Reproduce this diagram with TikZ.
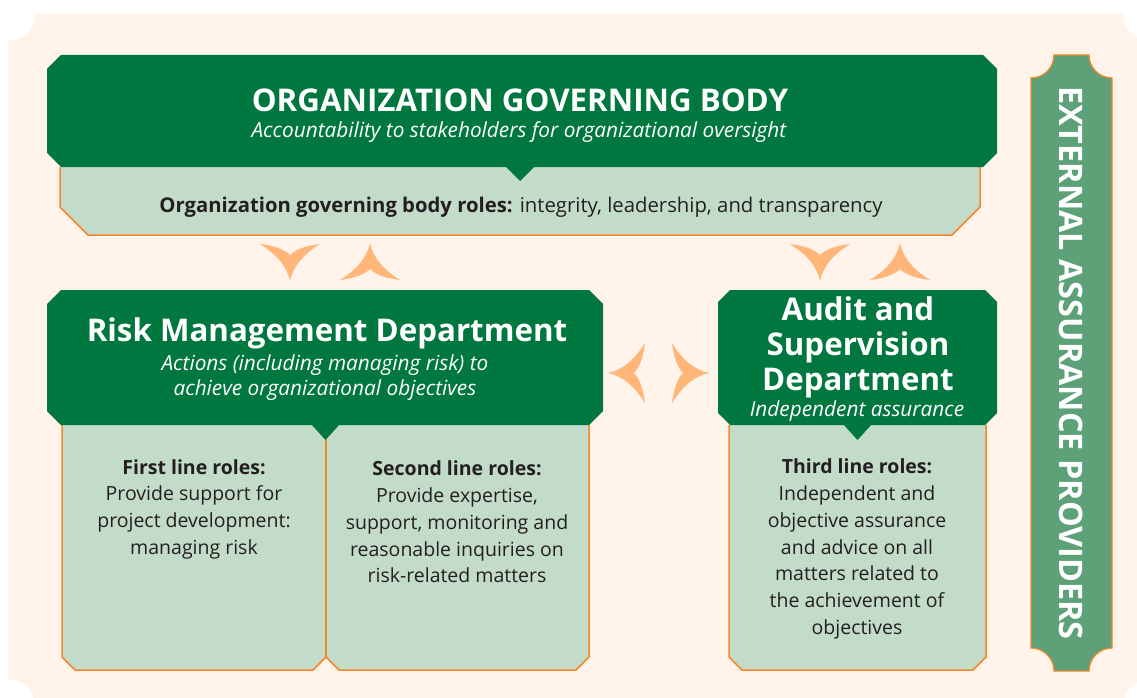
\documentclass[tikz,border=0pt]{standalone}
\usepackage{fontspec}
\setmainfont{Open Sans}
\usetikzlibrary{positioning}

\definecolor{pagebeige}{HTML}{FFF3EA}
\definecolor{govgreen}{HTML}{00773F}
\definecolor{rolegreen}{HTML}{C3DCC9}
\definecolor{roleedge}{HTML}{F5862A}
\definecolor{chevfill}{HTML}{FFB678}
\definecolor{extgreen}{HTML}{5CA177}
\definecolor{inkgray}{HTML}{231F20}

\tikzset{every picture/.style={line width=0.75pt}}
\tikzset{
  headbox/.style={fill=govgreen},
  rolebox/.style={fill=rolegreen},
  roleline/.style={draw=roleedge,line width=1.5pt},
  headtext/.style={text=white,align=center,inner sep=0pt,font=\fontsize{31.3}{35}\selectfont\bfseries},
  subtext/.style={text=white,align=center,inner sep=0pt,font=\fontsize{20.8}{25}\selectfont\itshape},
  roletext/.style={text=inkgray,align=center,inner sep=0pt,font=\fontsize{19.5}{26.7}\selectfont},
  chev/.pic={
    \fill[chevfill] (-30,-18) .. controls (-14,-16) and (-5,-12) .. (0,-7)
      .. controls (5,-12) and (14,-16) .. (30,-18)
      .. controls (14,-8) and (3,4) .. (0,19)
      .. controls (-3,4) and (-14,-8) .. (-30,-18) -- cycle;
  }
}

\begin{document}
\begin{tikzpicture}[x=1pt,y=-1pt]
\useasboundingbox (0,0) rectangle (1137,698);

%Background sheet with cut corners
\fill[pagebeige] (8,41) arc[start angle=90,end angle=0,radius=27] -- (1123,14)
  arc[start angle=180,end angle=90,radius=27] -- (1150,679)
  arc[start angle=270,end angle=180,radius=27] -- (35,706)
  arc[start angle=0,end angle=-90,radius=27] -- cycle;

%Shape: governing body roles
\fill[rolebox] (60,160) -- (60,207) -- (88,235) -- (952,235) -- (980,207) -- (980,160) -- cycle;
\draw[roleline] (60,167) -- (60,207) -- (88,235) -- (952,235) -- (980,207) -- (980,167);
%Shape: first and second line roles
\fill[rolebox] (62,420) -- (62,657) -- (75,670) -- (313,670) -- (326,657) -- (339,670) -- (576,670) -- (589,657) -- (589,420) -- cycle;
\draw[roleline] (62,425) -- (62,657) -- (75,670) -- (313,670) -- (326,657) -- (339,670) -- (576,670) -- (589,657) -- (589,425);
\draw[roleline] (326,425) -- (326,657);
%Shape: third line roles
\fill[rolebox] (729,420) -- (729,657) -- (742,670) -- (973,670) -- (986,657) -- (986,420) -- cycle;
\draw[roleline] (729,425) -- (729,657) -- (742,670) -- (973,670) -- (986,657) -- (986,425);

%Shape: governing body
\fill[headbox] (61,55) -- (983,55) -- (997,69) -- (997,153) -- (983,167) -- (61,167) -- (47,153) -- (47,69) -- cycle;
\fill[headbox] (505,166) -- (535,166) -- (520,181) -- cycle;
%Shape: risk management
\fill[headbox] (61,290) -- (589,290) -- (603,304) -- (603,411) -- (589,425) -- (61,425) -- (47,411) -- (47,304) -- cycle;
\fill[headbox] (311,424) -- (340,424) -- (325.5,440) -- cycle;
%Shape: audit and supervision
\fill[headbox] (730,290) -- (985,290) -- (997,302) -- (997,413) -- (985,425) -- (730,425) -- (718,413) -- (718,302) -- cycle;
\fill[headbox] (843,424) -- (872,424) -- (857.5,440) -- cycle;

%Shape: external providers
\filldraw[fill=extgreen,draw=roleedge,line width=1.2pt] (1054,55) -- (1089,55)
  arc[start angle=180,end angle=90,radius=23] -- (1112,648)
  arc[start angle=270,end angle=180,radius=23] -- (1054,671)
  arc[start angle=0,end angle=-90,radius=23] -- (1031,78)
  arc[start angle=90,end angle=0,radius=23] -- cycle;

%Chevrons
\pic at (290,262) {chev};
\pic[rotate=180] at (370,262) {chev};
\pic at (820,262) {chev};
\pic[rotate=180] at (900,262) {chev};
\pic[rotate=-90] at (627,373) {chev};
\pic[rotate=90] at (690,373) {chev};

% Text Nodes
\node[headtext] (govtitle) at (520,100) {ORGANIZATION GOVERNING BODY};
\node[subtext] (govsub) at (519,132) {Accountability to stakeholders for organizational oversight};
\node[roletext,font=\fontsize{20.3}{26.7}\selectfont] (govroles) at (521,207) {\textbf{Organization governing body roles:} integrity, leadership, and transparency};
\node[headtext] (risktitle) at (327,333) {Risk Management Department};
\node[subtext] (risksub) at (325,378) {Actions (including managing risk) to\\achieve organizational objectives};
\node[headtext] (audittitle) at (858,347) {Audit and\\Supervision\\Department};
\node[subtext] (auditsub) at (857,411) {Independent assurance};
\node[roletext] (firstroles) at (194,509) {\textbf{First line roles:}\\Provide support for\\project development:\\managing risk};
\node[roletext] (secondroles) at (457,522) {\textbf{Second line roles:}\\Provide expertise,\\support, monitoring and\\reasonable inquiries on\\risk-related matters};
\node[roletext] (thirdroles) at (857,549) {\textbf{Third line roles:}\\Independent and\\objective assurance\\and advice on all\\matters related to\\the achievement of\\objectives};
\node[text=white,inner sep=0pt,rotate=-90,font=\fontsize{32.4}{36}\selectfont\bfseries] (external) at (1071,363) {EXTERNAL ASSURANCE PROVIDERS};
\end{tikzpicture}
\end{document}
